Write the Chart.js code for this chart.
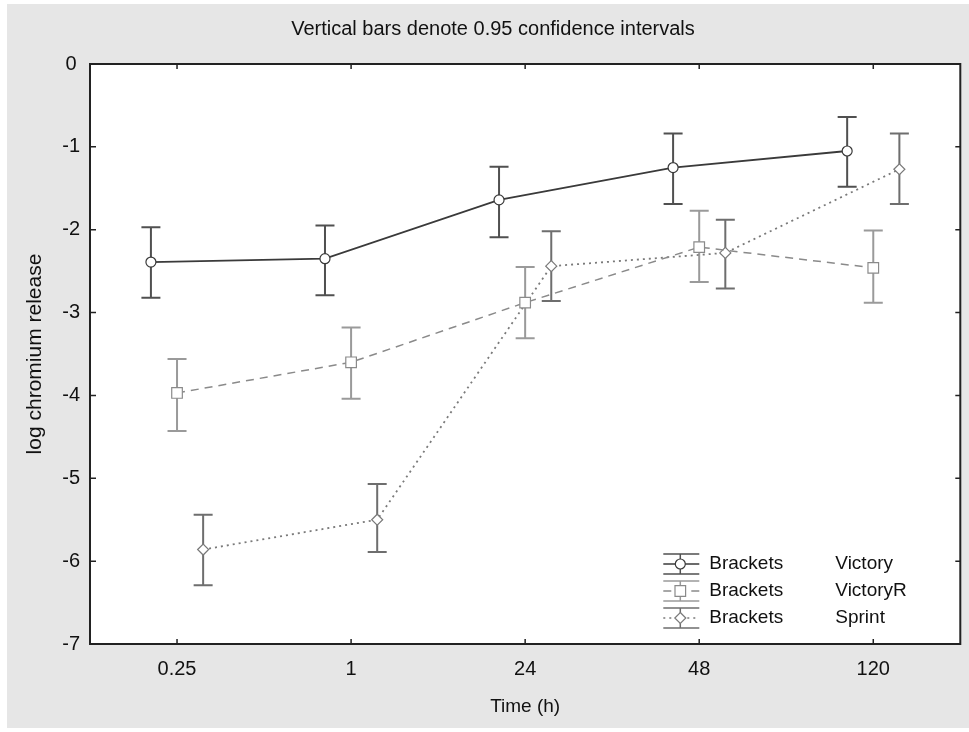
<!DOCTYPE html>
<html>
<head>
<meta charset="utf-8">
<script src="https://cdn.jsdelivr.net/npm/chart.js@4.4.0/dist/chart.umd.min.js"></script>
<style>
  html, body { margin: 0; padding: 0; background: #fff; }
  #wrap { width: 969px; height: 732px; }
</style>
</head>
<body>
<div id="wrap"><canvas id="chart" width="969" height="732"></canvas></div>
<script>
// data
const categories = ['0.25', '1', '24', '48', '120'];
const yTicks = [0, -1, -2, -3, -4, -5, -6, -7];

const victory     = [-2.39, -2.35, -1.64, -1.25, -1.05];
const victoryLow  = [-2.82, -2.79, -2.09, -1.69, -1.48];
const victoryHigh = [-1.97, -1.95, -1.24, -0.84, -0.64];

const victoryR     = [-3.97, -3.60, -2.88, -2.21, -2.46];
const victoryRLow  = [-4.43, -4.04, -3.31, -2.63, -2.88];
const victoryRHigh = [-3.56, -3.18, -2.45, -1.77, -2.01];

const sprint     = [-5.86, -5.50, -2.44, -2.28, -1.27];
const sprintLow  = [-6.29, -5.89, -2.86, -2.71, -1.69];
const sprintHigh = [-5.44, -5.07, -2.02, -1.88, -0.84];

const FONT = '"Liberation Sans", Arial, sans-serif';

function toPoints(values, shift) {
  return values.map((v, i) => ({ x: i + shift, y: v }));
}

// background, white plot area, frame with inward ticks
const framePlugin = {
  id: 'frame',
  beforeDraw(chart) {
    const { ctx, chartArea: a } = chart;
    ctx.save();
    ctx.fillStyle = '#fff';
    ctx.fillRect(0, 0, chart.width, chart.height);
    ctx.fillStyle = '#e6e6e6';
    ctx.fillRect(7, 4, chart.width - 7, chart.height - 8);
    ctx.fillStyle = '#fff';
    ctx.fillRect(a.left, a.top, a.right - a.left, a.bottom - a.top);
    ctx.restore();
  },
  afterDraw(chart) {
    const { ctx, chartArea: a, scales } = chart;
    ctx.save();
    ctx.strokeStyle = '#222';
    ctx.lineWidth = 2;
    ctx.strokeRect(a.left, a.top, a.right - a.left, a.bottom - a.top);
    ctx.lineWidth = 1.5;
    ctx.beginPath();
    scales.x.ticks.forEach((t, i) => {
      const px = scales.x.getPixelForTick(i);
      ctx.moveTo(px, a.bottom); ctx.lineTo(px, a.bottom - 5);
      ctx.moveTo(px, a.top); ctx.lineTo(px, a.top + 5);
    });
    scales.y.ticks.forEach((t, i) => {
      const py = scales.y.getPixelForTick(i);
      ctx.moveTo(a.left, py); ctx.lineTo(a.left + 6, py);
      ctx.moveTo(a.right, py); ctx.lineTo(a.right - 5, py);
    });
    ctx.stroke();
    ctx.restore();
  }
};

// vertical confidence bars with caps
const errorBarPlugin = {
  id: 'errorBars',
  beforeDatasetsDraw(chart) {
    const { ctx, scales } = chart;
    chart.data.datasets.forEach(ds => {
      ctx.save();
      ctx.strokeStyle = ds.barColor;
      ctx.lineWidth = 2;
      ctx.beginPath();
      ds.data.forEach((p, i) => {
        const x = scales.x.getPixelForValue(p.x);
        const y1 = scales.y.getPixelForValue(ds.low[i]);
        const y2 = scales.y.getPixelForValue(ds.high[i]);
        ctx.moveTo(x, y1); ctx.lineTo(x, y2);
        ctx.moveTo(x - 9.5, y1); ctx.lineTo(x + 9.5, y1);
        ctx.moveTo(x - 9.5, y2); ctx.lineTo(x + 9.5, y2);
      });
      ctx.stroke();
      ctx.restore();
    });
  }
};

function marker(ctx, style, x, y, r) {
  ctx.beginPath();
  if (style === 'circle') {
    ctx.arc(x, y, r, 0, Math.PI * 2);
  } else if (style === 'rect') {
    const s = r * Math.SQRT1_2;
    ctx.rect(x - s, y - s, 2 * s, 2 * s);
  } else {
    ctx.moveTo(x, y - r); ctx.lineTo(x + r, y); ctx.lineTo(x, y + r); ctx.lineTo(x - r, y);
    ctx.closePath();
  }
  ctx.fillStyle = '#fff';
  ctx.fill();
  ctx.stroke();
}

// legend like the original: bracket symbol, group, series
const legendPlugin = {
  id: 'bracketLegend',
  afterDraw(chart) {
    const { ctx, chartArea: a } = chart;
    const rowsY = [a.bottom - 80, a.bottom - 53, a.bottom - 26];
    const x0 = a.right - 297, x1 = a.right - 261, xm = a.right - 280;
    chart.data.datasets.forEach((ds, k) => {
      const y = rowsY[k];
      ctx.save();
      ctx.strokeStyle = ds.barColor;
      ctx.lineWidth = 1.5;
      ctx.beginPath();
      ctx.moveTo(x0, y - 10); ctx.lineTo(x1, y - 10);
      ctx.moveTo(x0, y + 10); ctx.lineTo(x1, y + 10);
      ctx.moveTo(xm, y - 10); ctx.lineTo(xm, y + 10);
      ctx.stroke();
      ctx.strokeStyle = ds.borderColor;
      ctx.setLineDash(ds.borderDash || []);
      ctx.beginPath();
      ctx.moveTo(x0, y); ctx.lineTo(x1, y);
      ctx.stroke();
      ctx.setLineDash([]);
      ctx.lineWidth = 1.2;
      marker(ctx, ds.pointStyle, xm, y, ds.pointRadius);
      ctx.fillStyle = '#111';
      ctx.font = '19px ' + FONT;
      ctx.textBaseline = 'middle';
      ctx.textAlign = 'left';
      ctx.fillText(ds.group, a.right - 251, y);
      ctx.fillText(ds.label, a.right - 125, y);
      ctx.restore();
    });
  }
};

new Chart(document.getElementById('chart'), {
  type: 'line',
  data: {
    datasets: [
      {
        label: 'Victory', group: 'Brackets',
        data: toPoints(victory, -0.15), low: victoryLow, high: victoryHigh,
        borderColor: '#3a3a3a', borderWidth: 1.8, barColor: '#505050',
        pointStyle: 'circle', pointRadius: 5, pointBorderWidth: 1.2,
        pointBackgroundColor: '#fff', pointBorderColor: '#3a3a3a'
      },
      {
        label: 'VictoryR', group: 'Brackets',
        data: toPoints(victoryR, 0), low: victoryRLow, high: victoryRHigh,
        borderColor: '#8a8a8a', borderWidth: 1.5, borderDash: [8, 6], barColor: '#9a9a9a',
        pointStyle: 'rect', pointRadius: 7.5, pointBorderWidth: 1.2,
        pointBackgroundColor: '#fff', pointBorderColor: '#8a8a8a'
      },
      {
        label: 'Sprint', group: 'Brackets',
        data: toPoints(sprint, 0.15), low: sprintLow, high: sprintHigh,
        borderColor: '#7a7a7a', borderWidth: 1.8, borderDash: [2, 4], barColor: '#6e6e6e',
        pointStyle: 'rectRot', pointRadius: 5.5, pointBorderWidth: 1.2,
        pointBackgroundColor: '#fff', pointBorderColor: '#7a7a7a'
      }
    ]
  },
  options: {
    responsive: false,
    animation: false,
    layout: { padding: { left: 22, right: 5, top: 0, bottom: 0 } },
    plugins: {
      legend: { display: false },
      tooltip: { enabled: false },
      title: {
        display: true,
        text: 'Vertical bars denote 0.95 confidence intervals',
        color: '#111',
        font: { family: FONT, size: 20, weight: 'normal' },
        padding: { top: 17, bottom: 23 }
      }
    },
    scales: {
      x: {
        type: 'linear', min: -0.5, max: 4.5,
        afterFit(s) { s.height = 88; },
        afterBuildTicks(s) { s.ticks = categories.map((c, i) => ({ value: i })); },
        ticks: {
          callback: v => categories[v],
          color: '#111', font: { family: FONT, size: 20 }, padding: 13, maxRotation: 0
        },
        grid: { display: false, drawTicks: false },
        border: { display: false },
        title: {
          display: true, text: 'Time (h)', color: '#111',
          font: { family: FONT, size: 19 }, padding: { top: 14, bottom: 14 }
        }
      },
      y: {
        min: -7, max: 0,
        afterFit(s) { s.width = 68; },
        afterBuildTicks(s) { s.ticks = yTicks.map(v => ({ value: v })); },
        ticks: {
          color: '#111', font: { family: FONT, size: 20 }, padding: 10, crossAlign: 'center'
        },
        grid: { display: false, drawTicks: false },
        border: { display: false },
        title: {
          display: true, text: 'log chromium release', color: '#111',
          font: { family: FONT, size: 21 }, padding: { top: 0.5, bottom: 0.5 }
        }
      }
    }
  },
  plugins: [framePlugin, errorBarPlugin, legendPlugin]
});
</script>
</body>
</html>
